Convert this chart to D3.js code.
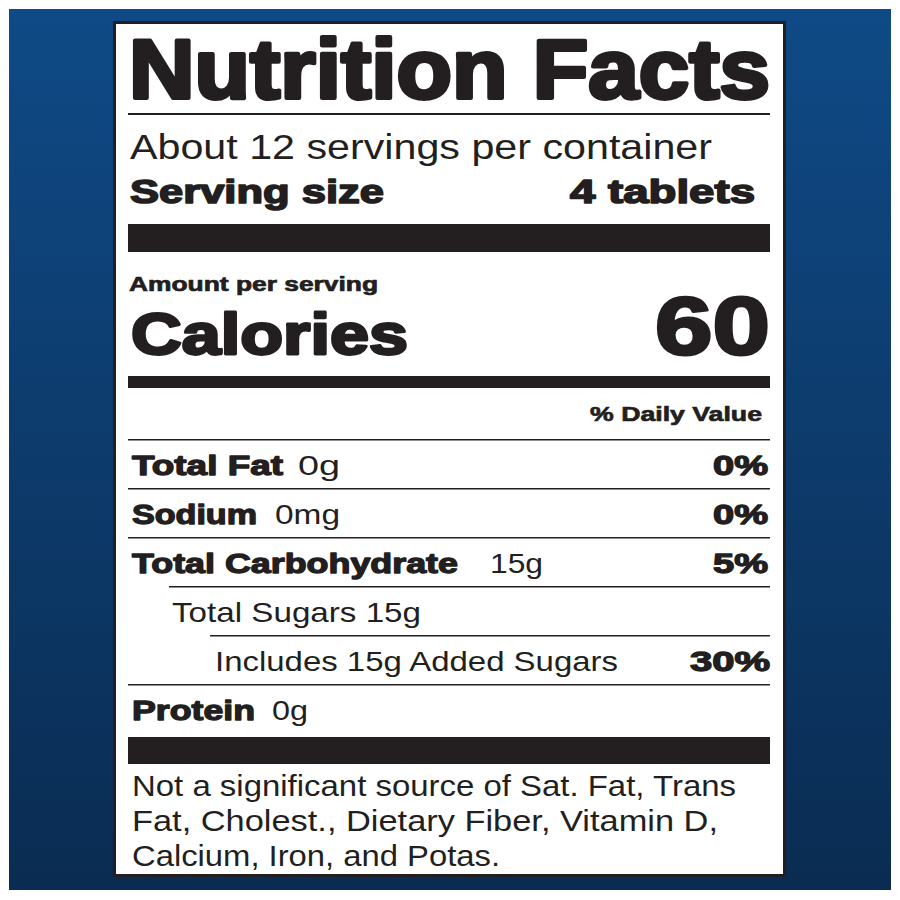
<!DOCTYPE html>
<html><head><meta charset="utf-8">
<script src="https://cdn.jsdelivr.net/npm/d3@7"></script>
<style>body{margin:0;background:#fff}svg{display:block}</style>
</head><body><svg id="c" width="900" height="900"></svg>
<script>
const title = "Nutrition Facts";
const servingsText = "About 12 servings per container";
const servingSize = ["Serving size", "4 tablets"];
const calories = 60;
const nutrientNames = ["Total Fat", "Sodium", "Total Carbohydrate", "Total Sugars 15g", "Includes 15g Added Sugars", "Protein"];
const nutrientAmounts = ["0g", "0mg", "15g", "", "", "0g"];
const nutrientDV = ["0%", "0%", "5%", "", "30%", ""];
const nutrientIndent = [0, 0, 0, 1, 2, 0];
const nutrientBold = [true, true, true, false, false, true];
const footnote = ["Not a significant source of Sat. Fat, Trans", "Fat, Cholest., Dietary Fiber, Vitamin D,", "Calcium, Iron, and Potas."];

// horizontal extents (label text widths)
const nameSpan = [[132,283],[132,257],[132,458],[172,421],[215,618],[132,255]];
const amountSpan = [[298,340],[275,340],[490,543],null,null,[272,308]];
const dvSpan = [[713,768],[713,768],[713,768],null,[690,770],null];
const footSpan = [[132,736],[132,718],[132,500]];

const svg = d3.select("#c");
const defs = svg.append("defs");
const g = defs.append("linearGradient").attr("id","bg").attr("x1",0).attr("y1",0).attr("x2",0).attr("y2",1);
g.append("stop").attr("offset","0%").attr("stop-color","#0f4a86");
g.append("stop").attr("offset","100%").attr("stop-color","#0a2c52");
svg.append("rect").attr("x",9).attr("y",9).attr("width",882).attr("height",881).attr("fill","url(#bg)");
svg.append("rect").attr("x",114.5).attr("y",22.5).attr("width",670).attr("height",853).attr("fill","#fff").attr("stroke","#231f20").attr("stroke-width",3);

const F = "'Liberation Sans', Arial, sans-serif";
const ink = "#231f20";
function txt(span,y,s,size,weight,heavy){
  const t = svg.append("text").attr("x",span[0]).attr("y",y).text(s).attr("font-family",F)
    .attr("font-size",size).attr("font-weight",weight||"normal").attr("fill",ink)
    .attr("textLength", span[1]-span[0]).attr("lengthAdjust","spacingAndGlyphs");
  if(heavy){t.attr("stroke",ink).attr("stroke-width",heavy).attr("stroke-linejoin","round");}
  return t;
}
function line(x1,x2,y,w){svg.append("rect").attr("x",x1).attr("y",y).attr("width",x2-x1).attr("height",w).attr("fill",ink);}

const L = 128, R = 770;
txt([129, 770], 98, title, 84, "bold", 4);
line(L, R, 113, 2);
txt([130, 712], 159, servingsText, 35);
txt([130, 384], 203, servingSize[0], 33, "bold", 1.6);
txt([570, 755], 203, servingSize[1], 33, "bold", 1.6);
line(L, R, 224, 28);
txt([129, 378], 291, "Amount per serving", 20, "bold", 0.7);
txt([131, 408], 354, "Calories", 58, "bold", 2.8);
txt([655, 770], 354, String(calories), 82, "bold", 3);
line(L, R, 376, 12);
txt([590, 762], 421, "% Daily Value", 21, "bold", 0.7);

const y = d3.scaleBand().domain(d3.range(nutrientNames.length)).range([439, 733]);
const indentX = d3.scaleLinear().domain([0,2]).range([128, 210]);
nutrientNames.forEach((n,i)=>{
  const top = y(i);
  line(indentX(nutrientIndent[i]), R, top, 1.5);
  const by = top + 36;
  txt(nameSpan[i], by, n, 28, nutrientBold[i]?"bold":"normal", nutrientBold[i]?1.3:0);
  if(nutrientAmounts[i]) txt(amountSpan[i], by, nutrientAmounts[i], 28);
  if(nutrientDV[i]) txt(dvSpan[i], by, nutrientDV[i], 28, "bold", 1.3);
});
line(L, R, 737, 27);
footnote.forEach((s,i)=> txt(footSpan[i], 796 + i*35, s, 30));
</script></body></html>
